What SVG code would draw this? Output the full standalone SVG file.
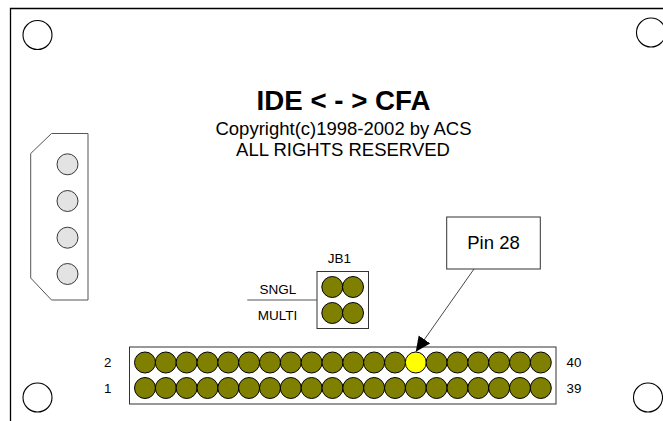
<svg xmlns="http://www.w3.org/2000/svg" width="663" height="421" viewBox="0 0 663 421">
<style>
text{font-family:"Liberation Sans",Arial,sans-serif;fill:#000}
.hole{fill:#fff;stroke:#000;stroke-width:1.1}
.pin{fill:#808000;stroke:#000;stroke-width:1}
.pw{fill:#e3e3e3;stroke:#222;stroke-width:.9}
.box{fill:#fff;stroke:#333;stroke-width:1}
.s{font-size:13.3px}
.m{font-size:13.5px;text-anchor:middle}
</style>
<defs>
<marker id="ah" markerUnits="userSpaceOnUse" markerWidth="16" markerHeight="16" refX="15" refY="7" orient="auto"><path d="M0 0L15 7L0 14Z" fill="#000"/></marker>
<circle id="p" r="10.500" class="pin"/>
</defs>
<rect width="663" height="421" fill="#fff"/>
<g id="board"><path d="M10.500 421V8.500H663" fill="none" stroke="#000" stroke-width="1.300"/></g>
<g id="holes">
<circle class="hole" cx="37.500" cy="35" r="14.500"/>
<circle class="hole" cx="651" cy="32.500" r="14.500"/>
<circle class="hole" cx="37.500" cy="397.500" r="14.500"/>
<circle class="hole" cx="648" cy="397.500" r="14.500"/>
</g>
<g id="title">
<text x="343.500" y="110" font-size="27.700" font-weight="bold" text-anchor="middle">IDE &lt; - &gt; CFA</text>
<text x="343.500" y="135" font-size="18.500" text-anchor="middle">Copyright(c)1998-2002 by ACS</text>
<text x="343" y="156" font-size="18.500" text-anchor="middle">ALL RIGHTS RESERVED</text>
</g>
<g id="power">
<path d="M51.500 133.500H88V300H51.500L30.700 278V153.500Z" fill="#fff" stroke="#555" stroke-width="1"/>
<circle class="pw" cx="67.500" cy="164.300" r="10.500"/>
<circle class="pw" cx="67.500" cy="201" r="10.500"/>
<circle class="pw" cx="67.500" cy="237.700" r="10.500"/>
<circle class="pw" cx="67.500" cy="274" r="10.500"/>
</g>
<g id="jb1">
<rect class="box" x="317" y="271.500" width="51.500" height="57"/>
<use href="#p" x="332.300" y="287"/><use href="#p" x="353" y="287"/>
<use href="#p" x="332.300" y="313"/><use href="#p" x="353" y="313"/>
<text class="m" x="339.500" y="263">JB1</text>
<text class="m" x="278" y="294">SNGL</text>
<text class="m" x="277.500" y="320">MULTI</text>
</g>
<g id="header">
<rect class="box" x="129.500" y="347" width="426.500" height="57"/>
<use href="#p" x="145" y="362.500"/><use href="#p" x="165.800" y="362.500"/><use href="#p" x="186.600" y="362.500"/><use href="#p" x="207.500" y="362.500"/><use href="#p" x="228.300" y="362.500"/><use href="#p" x="249.100" y="362.500"/><use href="#p" x="270" y="362.500"/><use href="#p" x="290.800" y="362.500"/><use href="#p" x="311.600" y="362.500"/><use href="#p" x="332.500" y="362.500"/><use href="#p" x="353.300" y="362.500"/><use href="#p" x="374.100" y="362.500"/><use href="#p" x="395" y="362.500"/><circle cx="415.800" cy="362.500" r="10.500" fill="#ff0" stroke="#000"/><use href="#p" x="436.600" y="362.500"/><use href="#p" x="457.500" y="362.500"/><use href="#p" x="478.300" y="362.500"/><use href="#p" x="499.100" y="362.500"/><use href="#p" x="520" y="362.500"/><use href="#p" x="540.800" y="362.500"/>
<use href="#p" x="145" y="388"/><use href="#p" x="165.800" y="388"/><use href="#p" x="186.600" y="388"/><use href="#p" x="207.500" y="388"/><use href="#p" x="228.300" y="388"/><use href="#p" x="249.100" y="388"/><use href="#p" x="270" y="388"/><use href="#p" x="290.800" y="388"/><use href="#p" x="311.600" y="388"/><use href="#p" x="332.500" y="388"/><use href="#p" x="353.300" y="388"/><use href="#p" x="374.100" y="388"/><use href="#p" x="395" y="388"/><use href="#p" x="415.800" y="388"/><use href="#p" x="436.600" y="388"/><use href="#p" x="457.500" y="388"/><use href="#p" x="478.300" y="388"/><use href="#p" x="499.100" y="388"/><use href="#p" x="520" y="388"/><use href="#p" x="540.800" y="388"/>
<text class="s" x="104" y="367">2</text>
<text class="s" x="104" y="393">1</text>
<text class="s" x="566.500" y="367">40</text>
<text class="s" x="566.500" y="393">39</text>
</g>
<g id="pin28">
<rect class="box" x="446.700" y="217" width="93.600" height="52"/>
<text x="493.500" y="249" font-size="18.500" text-anchor="middle">Pin 28</text>
</g>
<g id="connectors" fill="none" stroke="#333">
<path d="M247.300 300H317" stroke="#555"/>
<path d="M474 269L415.800 351.700" marker-end="url(#ah)" stroke-width=".9"/>
</g>
</svg>
